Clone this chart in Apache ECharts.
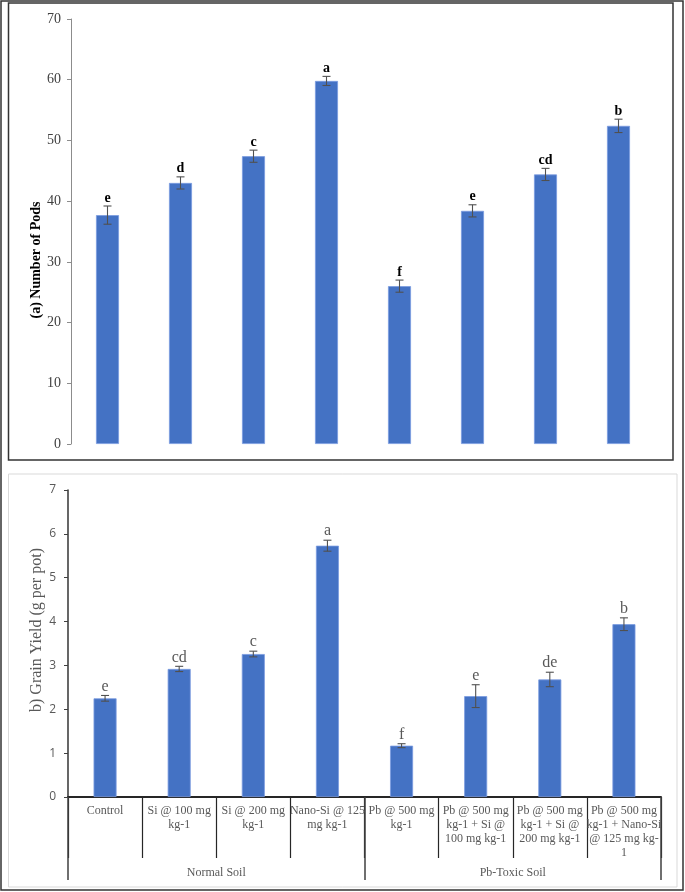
<!DOCTYPE html>
<html><head><meta charset="utf-8">
<script src="https://cdn.jsdelivr.net/npm/echarts@6/dist/echarts.min.js"></script>
<style>html,body{margin:0;padding:0;background:#fff}#c{width:685px;height:892px}</style>
</head><body><div id="c"></div>
<script>
const categories = [
  'Control',
  'Si @ 100 mg\nkg-1',
  'Si @ 200 mg\nkg-1',
  'Nano-Si @ 125\nmg kg-1',
  'Pb @ 500 mg\nkg-1',
  'Pb @ 500 mg\nkg-1 + Si @\n100 mg kg-1',
  'Pb @ 500 mg\nkg-1 + Si @\n200 mg kg-1',
  'Pb @ 500 mg\nkg-1 + Nano-Si\n@ 125 mg kg-\n1'
];
const groups = ['Normal Soil', 'Pb-Toxic Soil'];
const podsMean = [37.7, 43.0, 47.4, 59.8, 26.0, 38.4, 44.4, 52.4];
const podsErr = [1.5, 1.0, 1.0, 0.75, 1.0, 1.0, 1.0, 1.1];
const podsLetters = ['e', 'd', 'c', 'a', 'f', 'e', 'cd', 'b'];
const yieldMean = [2.25, 2.92, 3.26, 5.73, 1.17, 2.30, 2.68, 3.94];
const yieldErr = [0.065, 0.06, 0.065, 0.125, 0.045, 0.26, 0.165, 0.145];
const yieldLetters = ['e', 'cd', 'c', 'a', 'f', 'e', 'de', 'b'];

const SERIF = '"Liberation Serif", "Times New Roman", serif';
const SANS = '"Open Sans", "Liberation Sans", sans-serif';
const BLUE = '#4472C4';

const chart = echarts.init(document.getElementById('c'), null, {renderer: 'canvas'});

function errSeries(xi, yi, mean, err, letters, txt) {
  return {
    type: 'custom', xAxisIndex: xi, yAxisIndex: yi, z: 5, silent: true,
    data: mean.map((m, i) => [i, m, err[i]]),
    renderItem(params, api) {
      const i = api.value(0), m = api.value(1), e = api.value(2);
      const top = api.coord([i, m + e]), bot = api.coord([i, m - e]);
      const x = top[0], cap = 4;
      const ls = {stroke: '#505050', lineWidth: 1.1};
      return {type: 'group', children: [
        {type: 'line', shape: {x1: x, y1: top[1], x2: x, y2: bot[1]}, style: ls},
        {type: 'line', shape: {x1: x - cap, y1: top[1], x2: x + cap, y2: top[1]}, style: ls},
        {type: 'line', shape: {x1: x - cap, y1: bot[1], x2: x + cap, y2: bot[1]}, style: ls},
        {type: 'text', x: x, y: top[1] - 1, style: Object.assign({
          text: letters[params.dataIndex], align: 'center', verticalAlign: 'bottom'}, txt)}
      ]};
    }
  };
}

const option = {
  animation: false,
  backgroundColor: '#fff',
  graphic: [
    {type: 'rect', z: -10, shape: {x: 1, y: 1, width: 682, height: 889}, style: {fill: 'none', stroke: '#333', lineWidth: 1.5}},
    {type: 'rect', z: -10, shape: {x: 8.5, y: 3, width: 664.5, height: 457}, style: {fill: 'none', stroke: '#333', lineWidth: 1.5}},
    {type: 'rect', z: -10, shape: {x: 8.5, y: 474, width: 668.5, height: 413}, style: {fill: 'none', stroke: '#d9d9d9', lineWidth: 1}},
    {type: 'text', x: 36, y: 260, rotation: Math.PI / 2, style: {text: '(a) Number of Pods', fill: '#000', fontFamily: SERIF, fontWeight: 'bold', fontSize: 14, align: 'center', verticalAlign: 'middle'}},
    {type: 'text', x: 37, y: 630, rotation: Math.PI / 2, style: {text: 'b) Grain Yield (g per pot)', fill: '#595959', fontFamily: SERIF, fontSize: 16, align: 'center', verticalAlign: 'middle'}}
  ],
  grid: [
    {left: 71, right: 30, top: 19, height: 425},
    {left: 68, right: 24, top: 490, height: 307}
  ],
  xAxis: [
    {type: 'category', gridIndex: 0, data: categories, axisLine: {show: false}, axisTick: {show: false}, axisLabel: {show: false}},
    {type: 'category', gridIndex: 1, data: categories,
      axisLine: {show: true, lineStyle: {color: '#262626', width: 2}},
      axisTick: {show: true, interval: 0, length: 61, lineStyle: {color: '#262626', width: 1.2}},
      axisLabel: {interval: 0, margin: 7, color: '#595959', fontFamily: SERIF, fontSize: 12, lineHeight: 14}},
    {type: 'category', gridIndex: 1, data: groups, position: 'bottom',
      axisLine: {show: false},
      axisTick: {show: true, interval: 0, length: 83, lineStyle: {color: '#404040', width: 1.5}},
      axisLabel: {interval: 0, margin: 70, color: '#595959', fontFamily: SERIF, fontSize: 12}}
  ],
  yAxis: [
    {type: 'value', gridIndex: 0, min: 0, max: 70, interval: 10,
      axisLine: {show: true, lineStyle: {color: '#8c8c8c', width: 1}},
      axisTick: {show: true, length: 4, lineStyle: {color: '#8c8c8c'}},
      splitLine: {show: false},
      axisLabel: {margin: 10, color: '#404040', fontFamily: SERIF, fontSize: 14}},
    {type: 'value', gridIndex: 1, min: 0, max: 7, interval: 1,
      axisLine: {show: true, lineStyle: {color: '#404040', width: 1.6}},
      axisTick: {show: true, length: 4, lineStyle: {color: '#404040'}},
      splitLine: {show: false},
      axisLabel: {margin: 12, color: '#595959', fontFamily: SANS, fontSize: 12}}
  ],
  series: [
    {type: 'bar', xAxisIndex: 0, yAxisIndex: 0, data: podsMean, barWidth: 23,
      itemStyle: {color: BLUE, borderColor: '#7a9be0', borderWidth: 0.8}},
    errSeries(0, 0, podsMean, podsErr, podsLetters, {fill: '#000', fontFamily: SERIF, fontWeight: 'bold', fontSize: 14}),
    {type: 'bar', xAxisIndex: 1, yAxisIndex: 1, data: yieldMean, barWidth: 23,
      itemStyle: {color: BLUE, borderColor: '#7a9be0', borderWidth: 0.8}},
    errSeries(1, 1, yieldMean, yieldErr, yieldLetters, {fill: '#595959', fontFamily: SERIF, fontSize: 16})
  ]
};
chart.setOption(option);
</script>
</body></html>
